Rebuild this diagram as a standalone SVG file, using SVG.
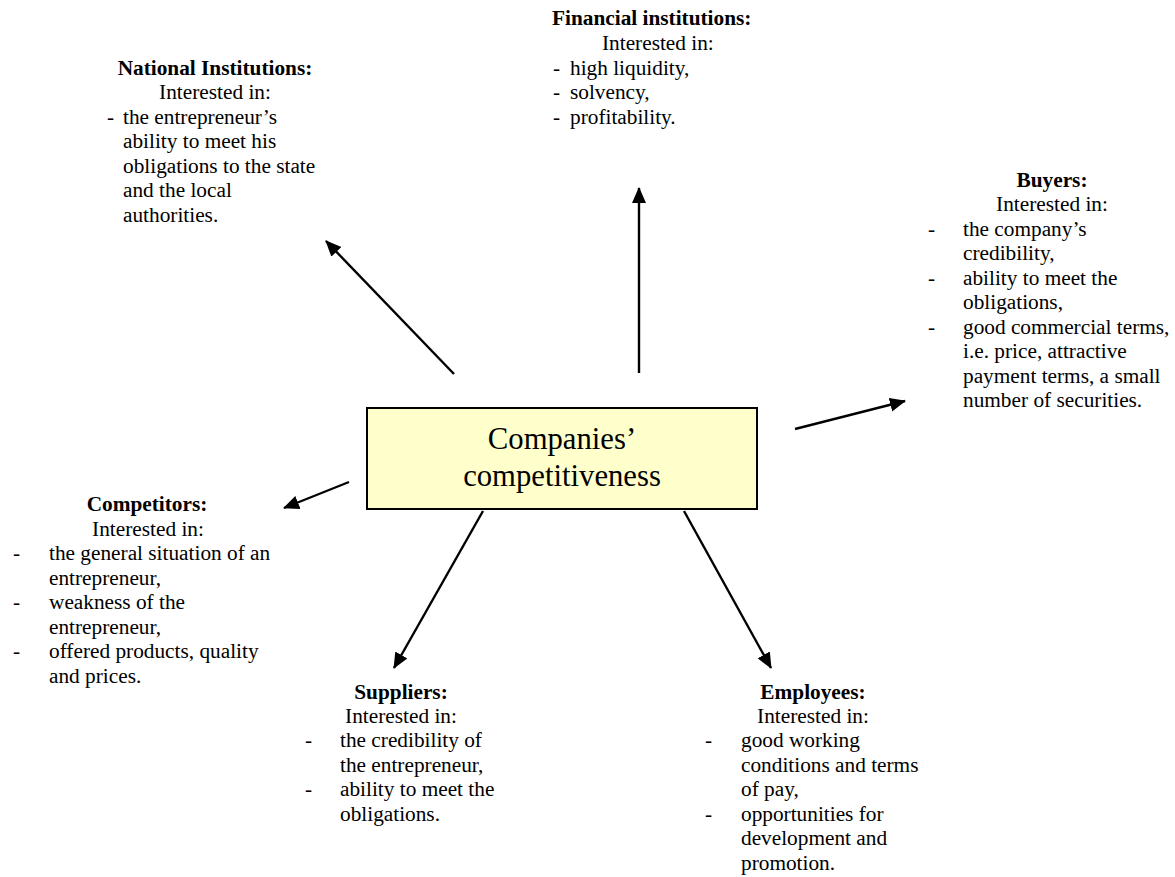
<svg xmlns="http://www.w3.org/2000/svg" width="1175" height="877" viewBox="0 0 1175 877">
<style>
text{font-family:"Liberation Serif","Times New Roman",serif;font-size:21.3px;fill:#000}
.b{font-weight:bold}
.m{text-anchor:middle}
.big{font-size:30.7px}
.ar{stroke:#000;stroke-width:2.4;fill:none;marker-end:url(#ah)}
</style>
<defs>
<marker id="ah" markerUnits="userSpaceOnUse" markerWidth="18" markerHeight="16" refX="15" refY="7" orient="auto">
<path d="M0,0 L16,7 L0,14 z" fill="#000"/>
</marker>
</defs>
<rect width="1175" height="877" fill="#fff"/>
<g id="center">
<rect x="367" y="408" width="390" height="101" fill="#ffffcc" stroke="#000" stroke-width="2"/>
<text class="big m" x="562" y="449">Companies’</text>
<text class="big m" x="562" y="486">competitiveness</text>
</g>
<g id="connectors">
<line class="ar" x1="454" y1="374" x2="326" y2="241"/>
<line class="ar" x1="639" y1="373" x2="639" y2="188"/>
<line class="ar" x1="795" y1="429" x2="905" y2="401"/>
<line class="ar" x1="349" y1="482" x2="284" y2="508"/>
<line class="ar" x1="483" y1="511" x2="394" y2="668"/>
<line class="ar" x1="684" y1="511" x2="771" y2="668"/>
</g>
<g id="national">
<text class="b m" x="215" y="75">National Institutions:</text>
<text class="m" x="215" y="99">Interested in:</text>
<text x="107" y="123.5">-</text>
<text x="123" y="123.5">the entrepreneur’s</text>
<text x="123" y="148">ability to meet his</text>
<text x="123" y="172.5">obligations to the state</text>
<text x="123" y="197">and the local</text>
<text x="123" y="221.5">authorities.</text>
</g>
<g id="financial">
<text class="b" x="552" y="25">Financial institutions:</text>
<text x="602" y="50">Interested in:</text>
<text x="553" y="74.5">-</text>
<text x="570" y="74.5">high liquidity,</text>
<text x="553" y="99">-</text>
<text x="570" y="99">solvency,</text>
<text x="553" y="123.5">-</text>
<text x="570" y="123.5">profitability.</text>
</g>
<g id="buyers">
<text class="b m" x="1052" y="187">Buyers:</text>
<text class="m" x="1052" y="211">Interested in:</text>
<text x="928" y="235.5">-</text>
<text x="963" y="235.5">the company’s</text>
<text x="963" y="260">credibility,</text>
<text x="928" y="284.5">-</text>
<text x="963" y="284.5">ability to meet the</text>
<text x="963" y="309">obligations,</text>
<text x="928" y="333.5">-</text>
<text x="963" y="333.5">good commercial terms,</text>
<text x="963" y="358">i.e. price, attractive</text>
<text x="963" y="382.5">payment terms, a small</text>
<text x="963" y="407">number of securities.</text>
</g>
<g id="competitors">
<text class="b m" x="147" y="511">Competitors:</text>
<text class="m" x="148" y="536">Interested in:</text>
<text x="13" y="560">-</text>
<text x="49" y="560">the general situation of an</text>
<text x="49" y="584.5">entrepreneur,</text>
<text x="13" y="609">-</text>
<text x="49" y="609">weakness of the</text>
<text x="49" y="633.5">entrepreneur,</text>
<text x="13" y="658">-</text>
<text x="49" y="658">offered products, quality</text>
<text x="49" y="682.5">and prices.</text>
</g>
<g id="suppliers">
<text class="b m" x="401" y="699">Suppliers:</text>
<text class="m" x="401" y="722.5">Interested in:</text>
<text x="305" y="747">-</text>
<text x="340" y="747">the credibility of</text>
<text x="340" y="771.5">the entrepreneur,</text>
<text x="305" y="796">-</text>
<text x="340" y="796">ability to meet the</text>
<text x="340" y="820.5">obligations.</text>
</g>
<g id="employees">
<text class="b m" x="813" y="699">Employees:</text>
<text class="m" x="813" y="722.5">Interested in:</text>
<text x="705" y="747">-</text>
<text x="741" y="747">good working</text>
<text x="741" y="771.5">conditions and terms</text>
<text x="741" y="796">of pay,</text>
<text x="705" y="820.5">-</text>
<text x="741" y="820.5">opportunities for</text>
<text x="741" y="845">development and</text>
<text x="741" y="869.5">promotion.</text>
</g>
</svg>
